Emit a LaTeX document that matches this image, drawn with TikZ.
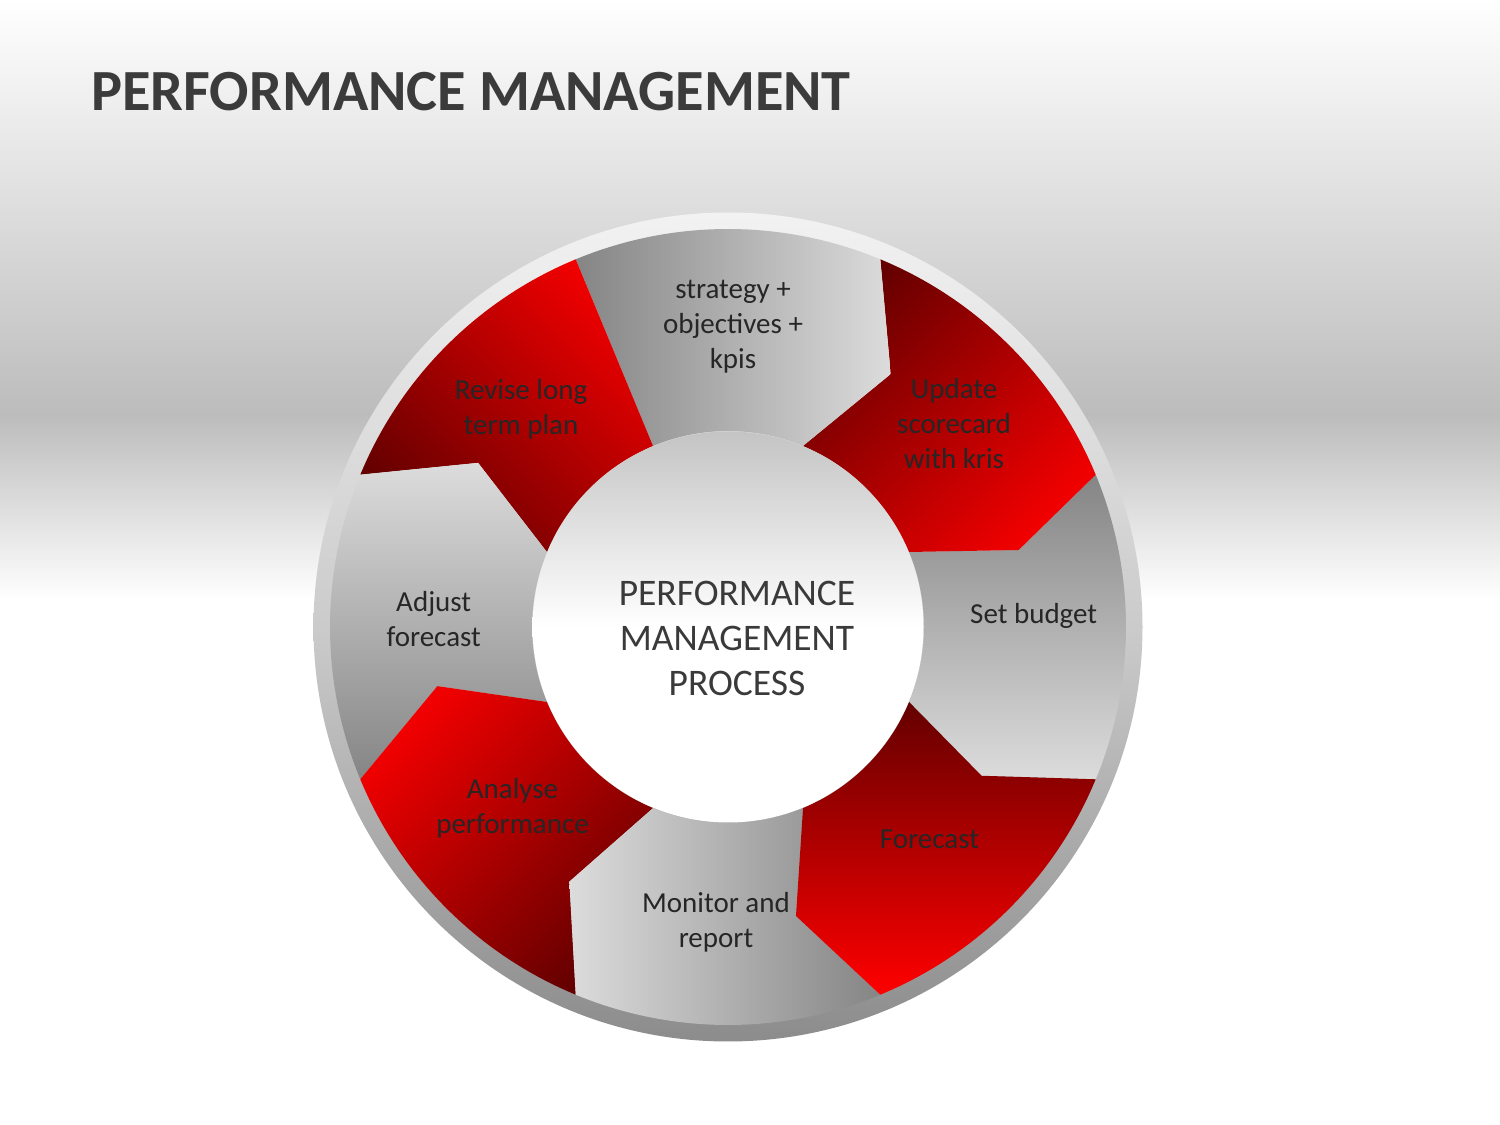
\documentclass[tikz,border=0pt]{standalone}
\usepackage{fontspec}
\setmainfont{Carlito}
\definecolor{bgdark}{HTML}{BCBCBC}
\definecolor{ringtop}{HTML}{F2F2F2}
\definecolor{ringmid}{HTML}{CBCBCB}
\definecolor{ringbot}{HTML}{8C8C8C}
\definecolor{redbright}{HTML}{F00000}
\definecolor{redvivid}{HTML}{FF0000}
\definecolor{reddark}{HTML}{640000}
\definecolor{graydark}{HTML}{858585}
\definecolor{graylight}{HTML}{DCDCDC}
\definecolor{innertop}{HTML}{C4C4C4}
\definecolor{txt}{HTML}{262626}
\definecolor{titletxt}{HTML}{3B3B3B}
\definecolor{centertxt}{HTML}{3A3A3A}
\newcommand{\mlines}[1]{\begin{tabular}[t]{@{}c@{}}#1\end{tabular}}
\begin{document}
\begin{tikzpicture}[x=1pt,y=1pt,
  lbl/.style={text=txt, inner sep=0pt, anchor=base, font=\fontsize{29}{35}\selectfont},
  redNE/.style={top color=redbright, bottom color=reddark, shading angle=-45},
  redNW/.style={top color=redbright, bottom color=reddark, shading angle=45},
  redSE/.style={top color=reddark, bottom color=redbright, shading angle=45},
  redV/.style={top color=reddark, bottom color=redvivid},
  grayDown/.style={top color=graydark, bottom color=graylight},
  grayUp/.style={top color=graylight, bottom color=graydark},
  grayLR/.style={left color=graydark, right color=graylight},
  grayRL/.style={left color=graylight, right color=graydark}]
\useasboundingbox (0,0) rectangle (1500,1125);
% background
\fill[white] (0,0) rectangle (1500,1125);
\path[top color=white, bottom color=bgdark] (0,1125) rectangle (1500,709.5);
\path[top color=bgdark, bottom color=white] (0,710.5) rectangle (1500,525);
% outer ring
\path[top color=ringtop, bottom color=ringbot, middle color=ringmid] (728,498) circle (414.5);
\begin{scope}[shift={(728,498)}]
% Set budget
\path[grayDown] (-22.5:398) arc[start angle=-22.5, end angle=22.5, radius=398] -- (14.84:300.7) -- (22.5:196) arc[start angle=22.5, end angle=-22.5, radius=196] -- (-30.4:294) -- cycle;
% Update scorecard
\path[redSE] (22.5:398) arc[start angle=22.5, end angle=67.5, radius=398] -- (57.25:300.8) -- (67.5:196) arc[start angle=67.5, end angle=22.5, radius=196] -- (14.84:300.7) -- cycle;
% strategy
\path[grayLR] (67.5:398) arc[start angle=67.5, end angle=112.5, radius=398] -- (112.5:196) arc[start angle=112.5, end angle=67.5, radius=196] -- (57.25:300.8) -- cycle;
% Revise
\path[redNE] (112.5:398) arc[start angle=112.5, end angle=157.5, radius=398] -- (146.7:299) -- (157.5:196) arc[start angle=157.5, end angle=112.5, radius=196] -- cycle;
% Adjust
\path[grayUp] (157.5:398) arc[start angle=157.5, end angle=202.5, radius=398] -- (191.5:296.6) -- (202.5:196) arc[start angle=202.5, end angle=157.5, radius=196] -- (146.7:299) -- cycle;
% Analyse
\path[redNW] (202.5:398) arc[start angle=202.5, end angle=247.5, radius=398] -- (238.07:300) -- (247.5:196) arc[start angle=247.5, end angle=202.5, radius=196] -- (191.5:296.6) -- cycle;
% Monitor
\path[grayRL] (247.5:398) arc[start angle=247.5, end angle=292.5, radius=398] -- (283.24:296.9) -- (292.5:196) arc[start angle=292.5, end angle=247.5, radius=196] -- (238.07:300) -- cycle;
% Forecast
\path[redV] (292.5:398) arc[start angle=292.5, end angle=337.5, radius=398] -- (329.6:294) -- (337.5:196) arc[start angle=337.5, end angle=292.5, radius=196] -- (283.24:296.9) -- cycle;
% inner circle
\path[top color=innertop, bottom color=white, middle color=white] (0,0) circle (195.5);
\end{scope}
% title
\node[anchor=base west, inner sep=0pt, text=titletxt, font=\fontsize{58.3}{70}\selectfont\bfseries] (title) at (91,1014.3) {PERFORMANCE MANAGEMENT};
% centre
\node[anchor=base, inner sep=0pt, text=centertxt, font=\fontsize{37.5}{45}\selectfont] (centre) at (737,519.3) {\mlines{PERFORMANCE\\MANAGEMENT\\PROCESS}};
% labels
\node[lbl] (lstrategy) at (733,826.7) {\mlines{strategy +\\objectives +\\kpis}};
\node[lbl] (lrevise) at (521,725.5) {\mlines{Revise long\\term plan}};
\node[lbl] (lupdate) at (954,726) {\mlines{Update\\scorecard\\with kris}};
\node[lbl] (lbudget) at (1033.7,501) {Set budget};
\node[lbl] (lforecast) at (929.5,276.7) {Forecast};
\node[lbl] (lmonitor) at (716,212.3) {\mlines{Monitor and\\report}};
\node[lbl] (lanalyse) at (512.5,326.7) {\mlines{Analyse\\performance}};
\node[lbl] (ladjust) at (433.7,513.3) {\mlines{Adjust\\forecast}};
\end{tikzpicture}
\end{document}
